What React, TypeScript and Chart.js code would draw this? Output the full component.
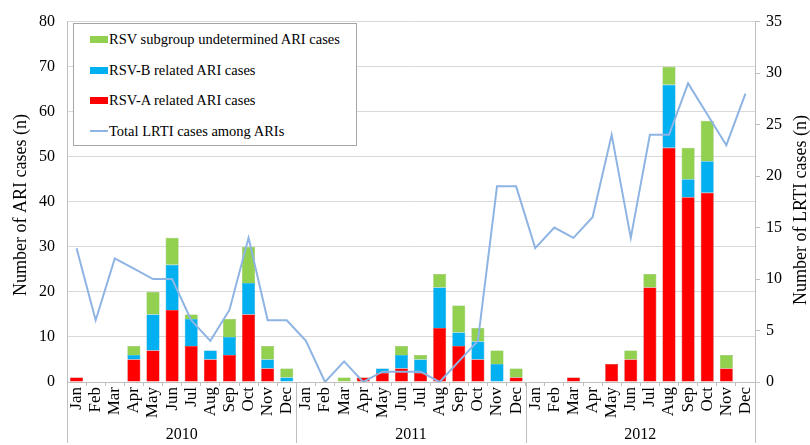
import React, { useEffect, useRef } from "react";
import { Chart, registerables } from "chart.js";

Chart.register(...registerables);

const months = ["Jan", "Feb", "Mar", "Apr", "May", "Jun", "Jul", "Aug", "Sep", "Oct", "Nov", "Dec"];
const years = ["2010", "2011", "2012"];
const labels = years.flatMap(() => months);

const rsvA = [1, 0, 0, 5, 7, 16, 8, 5, 6, 15, 3, 0, 0, 0, 0, 1, 2, 3, 2, 12, 8, 5, 0, 1, 0, 0, 1, 0, 4, 5, 21, 52, 41, 42, 3, 0];
const rsvB = [0, 0, 0, 1, 8, 10, 6, 2, 4, 7, 2, 1, 0, 0, 0, 0, 1, 3, 3, 9, 3, 4, 4, 0, 0, 0, 0, 0, 0, 0, 0, 14, 4, 7, 0, 0];
const rsvU = [0, 0, 0, 2, 5, 6, 1, 0, 4, 8, 3, 2, 0, 0, 1, 0, 0, 2, 1, 3, 6, 3, 3, 2, 0, 0, 0, 0, 0, 2, 3, 4, 7, 9, 3, 0];
const lrti = [13, 6, 12, 11, 10, 10, 6, 4, 7, 14, 6, 6, 4, 0, 2, 0, 1, 1, 1, 0, 2, 4, 19, 19, 13, 15, 14, 16, 24, 14, 24, 24, 29, 26, 23, 28];

const leftTicks = [0, 10, 20, 30, 40, 50, 60, 70, 80];
const rightTicks = [0, 5, 10, 15, 20, 25, 30, 35];

const leftTitle = "Number of ARI cases (n)";
const rightTitle = "Number of LRTI cases (n)";

const FONT = "'Liberation Serif', 'Times New Roman', serif";
const RED = "#FF0000";
const BLUE = "#00B0F0";
const GREEN = "#92D050";
const LINE = "#8EB4E3";
const GRID = "#D9D9D9";
const AXIS = "#BFBFBF";

const extrasPlugin = {
  id: "extras",
  afterDraw(chart: any) {
    const { ctx, chartArea, scales } = chart;
    const x = scales.x;
    const bounds: number[] = [chartArea.left];
    for (let g = 1; g < years.length; g++) {
      const a = x.getPixelForValue(g * 12 - 1);
      const b = x.getPixelForValue(g * 12);
      bounds.push((a + b) / 2);
    }
    bounds.push(chartArea.right);
    ctx.save();
    ctx.strokeStyle = AXIS;
    ctx.lineWidth = 1;
    bounds.forEach((bx) => {
      const px = Math.round(bx) + 0.5;
      ctx.beginPath();
      ctx.moveTo(px, chartArea.bottom);
      ctx.lineTo(px, 443);
      ctx.stroke();
    });
    ctx.fillStyle = "#000";
    ctx.font = `16px ${FONT}`;
    ctx.textAlign = "center";
    ctx.textBaseline = "middle";
    years.forEach((y, i) => {
      ctx.fillText(y, (bounds[i] + bounds[i + 1]) / 2, 435);
    });
    ctx.font = `18px ${FONT}`;
    // left axis title
    ctx.save();
    ctx.translate(21, 205);
    ctx.rotate(-Math.PI / 2);
    ctx.fillText(leftTitle, 0, 0);
    ctx.restore();
    // right axis title, reading bottom to top
    ctx.save();
    ctx.translate(801, 210);
    ctx.rotate(-Math.PI / 2);
    ctx.fillText(rightTitle, 0, 0);
    ctx.restore();
    ctx.restore();
  },
};

export default function App() {
  const ref = useRef<HTMLCanvasElement | null>(null);

  useEffect(() => {
    if (!ref.current) return;
    const chart = new Chart(ref.current, {
      type: "bar",
      data: {
        labels,
        datasets: [
          {
            type: "line",
            label: "Total LRTI cases among ARIs",
            data: lrti,
            yAxisID: "y1",
            borderColor: LINE,
            backgroundColor: LINE,
            borderWidth: 2,
            pointRadius: 0,
            tension: 0,
            order: 0,
          } as any,
          { label: "RSV-A related ARI cases", data: rsvA, backgroundColor: RED, borderColor: "#C00000", borderWidth: 0.5, yAxisID: "y", stack: "s", order: 1 },
          { label: "RSV-B related ARI cases", data: rsvB, backgroundColor: BLUE, borderColor: "#0090C8", borderWidth: 0.5, yAxisID: "y", stack: "s", order: 1 },
          { label: "RSV subgroup undetermined ARI cases", data: rsvU, backgroundColor: GREEN, borderColor: "#7AB040", borderWidth: 0.5, yAxisID: "y", stack: "s", order: 1 },
        ],
      },
      options: {
        animation: false,
        responsive: true,
        maintainAspectRatio: false,
        layout: { padding: { top: 16, left: 0, right: 0, bottom: 0 } },
        datasets: { bar: { categoryPercentage: 1, barPercentage: 0.68 } },
        plugins: { legend: { display: false }, tooltip: { enabled: false } },
        scales: {
          x: {
            stacked: true,
            offset: true,
            grid: { display: true, drawOnChartArea: false, drawTicks: true, tickLength: 4, color: AXIS, offset: true },
            border: { display: true, color: AXIS },
            ticks: {
              autoSkip: false,
              minRotation: 90,
              maxRotation: 90,
              padding: 1,
              color: "#000",
              font: { family: FONT, size: 17 },
            },
            afterFit: (s: any) => {
              s.height = 63;
            },
          },
          y: {
            stacked: true,
            position: "left",
            min: 0,
            max: 80,
            afterBuildTicks: (s: any) => {
              s.ticks = leftTicks.map((v) => ({ value: v }));
            },
            grid: { color: GRID, drawTicks: false },
            border: { display: true, color: AXIS },
            ticks: { padding: 12, color: "#000", font: { family: FONT, size: 16 } },
            afterFit: (s: any) => {
              s.width = 67;
            },
          },
          y1: {
            position: "right",
            min: 0,
            max: 35,
            afterBuildTicks: (s: any) => {
              s.ticks = rightTicks.map((v) => ({ value: v }));
            },
            grid: { display: true, drawOnChartArea: false, drawTicks: true, tickLength: 5, color: AXIS },
            border: { display: true, color: AXIS },
            ticks: { padding: 6, color: "#000", font: { family: FONT, size: 16 } },
            afterFit: (s: any) => {
              s.width = 55;
            },
          },
        },
      },
      plugins: [extrasPlugin],
    });
    return () => chart.destroy();
  }, []);

  const legendItems = [
    { color: GREEN, text: "RSV subgroup undetermined ARI cases", top: 39, line: false },
    { color: BLUE, text: "RSV-B related ARI cases", top: 70, line: false },
    { color: RED, text: "RSV-A related ARI cases", top: 100, line: false },
    { color: LINE, text: "Total LRTI cases among ARIs", top: 131, line: true },
  ];

  return (
    <div style={{ position: "fixed", left: 0, top: 0, width: 810, height: 445, background: "#fff" }}>
      <canvas ref={ref} />
      <div
        style={{
          position: "absolute",
          left: 73,
          top: 23,
          width: 284,
          height: 123,
          border: "1px solid #A6A6A6",
          background: "#fff",
          boxSizing: "border-box",
        }}
      />
      {legendItems.map((it) => (
        <div
          key={it.text}
          style={{
            position: "absolute",
            left: 90,
            top: it.top - 10,
            height: 20,
            display: "flex",
            alignItems: "center",
            fontFamily: FONT,
            fontSize: 14.5,
            color: "#000",
            whiteSpace: "nowrap",
          }}
        >
          <span
            style={{
              display: "inline-block",
              width: 18,
              height: it.line ? 2 : 7,
              background: it.color,
              marginRight: 1,
            }}
          />
          <span>{it.text}</span>
        </div>
      ))}
    </div>
  );
}
